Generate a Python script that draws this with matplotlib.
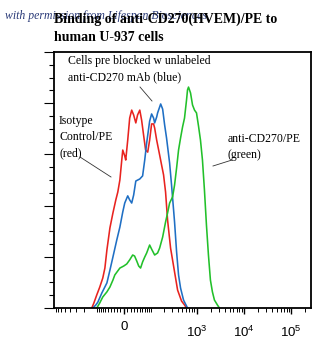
import numpy as np
import matplotlib
matplotlib.use("Agg")
import matplotlib.pyplot as plt
from matplotlib.ticker import FixedLocator, NullFormatter, MultipleLocator
from matplotlib.lines import Line2D

plt.rcParams['mathtext.default'] = 'regular'

# ---- data (fluorescence intensity, relative cell count) ----
red_x = [-131, -117, -100, -84, -70, -61, -53, -42, -32, -23, -17, -11, -5.6, -2.8, 2.8, 5.6, 11.3, 17, 23, 29,
         36, 42, 50, 57, 65, 74, 84, 94, 105, 117, 124, 138, 161, 178, 197, 218, 241, 280, 341, 396, 481, 556, 614]
red_y = [0, 2.0, 5.1, 8.2, 11.7, 15.6, 22.7, 31.3, 37.1, 42.2, 45.3, 50.0, 57.8, 61.7, 59.4, 57.8, 65.6, 74.2, 77.3, 75.4,
         72.3, 75.4, 77.3, 73.4, 67.6, 61.7, 60.9, 65.6, 71.9, 71.9, 70.3, 65.6, 59.8, 55.9, 52.0, 45.3, 34.4, 23.4, 14.1, 7.0, 2.7, 1.2, 0]

blue_x = [-124, -105, -94, -74, -53, -42, -32, -20, -11, -2.8, 2.8, 11.3, 17, 23, 29, 36, 50, 61, 70, 79,
          94, 105, 117, 124, 138, 145, 170, 188, 208, 229, 267, 294, 341, 377, 415, 458, 530, 644]
blue_y = [0, 1.2, 2.3, 5.9, 9.8, 14.8, 19.9, 26.6, 31.6, 37.5, 41.0, 43.8, 42.2, 41.0, 44.1, 49.6, 50.4, 51.6, 57.8, 64.5,
          73.0, 75.8, 74.2, 72.3, 74.6, 76.2, 79.7, 77.7, 71.5, 66.4, 56.6, 48.0, 33.6, 21.9, 12.9, 7.8, 3.1, 0]

green_x = [-100, -84, -70, -53, -42, -32, -26, -17, -11, 0, 8.5, 17, 26, 32, 39, 46, 53, 61, 70, 79,
           94, 105, 124, 145, 161, 188, 218, 241, 267, 309, 341, 377, 415, 458, 505, 556, 614, 644, 676, 746,
           822, 906, 998, 1100, 1211, 1334, 1469, 1620, 1785, 1966, 2166, 2390, 2760, 3043]
green_y = [0, 2.0, 4.3, 6.3, 8.2, 10.9, 12.9, 14.5, 15.6, 16.4, 17.2, 18.8, 20.7, 20.3, 18.4, 16.4, 15.6, 18.0, 19.9, 21.5,
           24.6, 23.0, 20.7, 21.5, 23.4, 27.7, 33.6, 37.1, 41.0, 43.4, 48.0, 54.7, 61.7, 66.4, 70.7, 74.2, 81.3, 85.2, 86.3, 84.0,
           79.3, 77.3, 76.2, 71.1, 65.6, 57.8, 46.1, 32.4, 20.7, 10.9, 6.3, 3.1, 1.2, 0]

xtick_values = [0, 1e3, 1e4, 1e5]
xtick_labels = ['0', '$10^3$', '$10^4$', '$10^5$']

W = 58.0  # biexponential width parameter
fwd = lambda x: np.arcsinh(np.asarray(x) / W)
inv = lambda u: W * np.sinh(np.asarray(u))

fig = plt.figure(figsize=(3.26, 3.54), dpi=100)
ax = fig.add_axes([54/326, 46/354, 257/326, 256/354])
ax.set_xscale('function', functions=(fwd, inv))

ax.plot(red_x, red_y, color='#e8231f', lw=1.15)
ax.plot(blue_x, blue_y, color='#1f6fc4', lw=1.15)
ax.plot(green_x, green_y, color='#22c02a', lw=1.15)

ax.set_xlim(-862, 262144)
ax.set_ylim(0, 100)

ax.xaxis.set_major_locator(FixedLocator(xtick_values))
ax.set_xticklabels(xtick_labels, fontfamily='Liberation Sans', fontsize=9.5)
for lab in ax.get_xticklabels()[1:]:
    lab.set_y(-0.018)
minors = [-m * 10**k for k in (1, 2) for m in range(1, 10)] + [m * 10**k for k in (1, 2, 3, 4) for m in range(1, 10)] + [2e5]
ax.xaxis.set_minor_locator(FixedLocator([v for v in minors if -862 < v < 262144]))
ax.xaxis.set_minor_formatter(NullFormatter())
ax.tick_params(axis='x', which='major', length=4, width=1, pad=5, direction='out')
ax.tick_params(axis='x', which='minor', length=3, width=0.7, direction='out')

ax.yaxis.set_major_locator(MultipleLocator(20))
ax.yaxis.set_minor_locator(MultipleLocator(5))
ax.set_yticklabels([])
ax.tick_params(axis='y', which='major', length=7, width=0.8)
ax.tick_params(axis='y', which='minor', length=3.5, width=0.8)

for s in ax.spines.values():
    s.set_linewidth(1.3)

serif = 'Liberation Serif'
# watermark
fig.text(5/326, 1 - 16/354, 'with permission from Lifespan Biosciences', fontsize=8.5, fontstyle='italic',
         family=serif, color='#2a3a78', va='center', ha='left', zorder=0)
# title
fig.text(54/326, 1 - 28/354, 'Binding of anti-CD270(HVEM)/PE to\nhuman U-937 cells', fontsize=10,
         fontweight='bold', family=serif, va='center', ha='left', linespacing=1.5, zorder=2)

def px(xp, yp):
    return (xp / 326, 1 - yp / 354)

fig.text(*px(68, 69), 'Cells pre blocked w unlabeled\nanti-CD270 mAb (blue)', fontsize=8.5, family=serif,
         va='center', ha='left', linespacing=1.45)
fig.text(*px(59, 137), 'Isotype\nControl/PE\n(red)', fontsize=8.5, family=serif, va='center', ha='left', linespacing=1.45)
fig.text(*px(228, 147), 'anti-CD270/PE\n(green)', fontsize=8.5, family=serif, va='center', ha='left', linespacing=1.5)

for (x0, y0, x1, y1) in [(140, 87, 152, 101), (80, 157, 111, 177), (213, 166, 232, 160)]:
    fig.add_artist(Line2D([x0/326, x1/326], [1 - y0/354, 1 - y1/354], color='#333333', lw=0.6))

fig.savefig('out.png', dpi=100)
